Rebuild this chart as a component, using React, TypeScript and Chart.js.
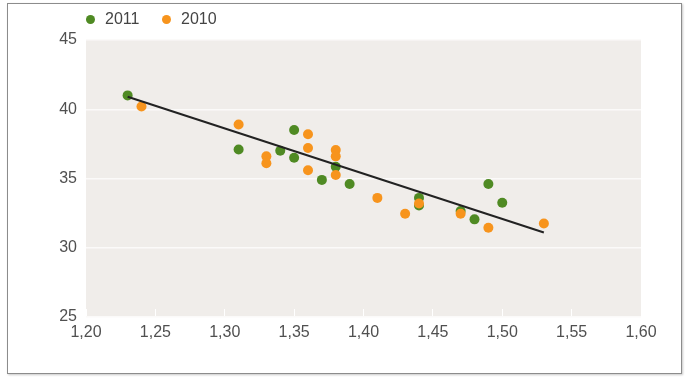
import React, { useEffect, useRef } from "react";
import { Chart, registerables } from "chart.js";

Chart.register(...registerables);

const series2011X = [1.23, 1.31, 1.34, 1.35, 1.35, 1.37, 1.38, 1.39, 1.44, 1.44, 1.47, 1.48, 1.49, 1.5];
const series2011Y = [41.0, 37.1, 37.0, 38.5, 36.5, 34.9, 35.85, 34.6, 33.6, 33.05, 32.65, 32.05, 34.6, 33.25];
const series2010X = [1.24, 1.31, 1.33, 1.33, 1.36, 1.36, 1.36, 1.38, 1.38, 1.38, 1.41, 1.43, 1.44, 1.47, 1.49, 1.53];
const series2010Y = [40.2, 38.9, 36.6, 36.1, 38.2, 37.2, 35.6, 37.05, 36.6, 35.25, 33.6, 32.45, 33.2, 32.45, 31.45, 31.75];
const trendX = [1.23, 1.53];
const trendY = [40.9, 31.1];
const legendLabels = ["2011", "2010"];
const xMin = 1.2, xMax = 1.6, xStep = 0.05;
const yMin = 25, yMax = 45, yStep = 5;

const GREEN = "#4f8a23";
const ORANGE = "#f7941d";
const FONT = "'Liberation Sans', Arial, sans-serif";

const toPoints = (xs: number[], ys: number[]) => xs.map((x, i) => ({ x, y: ys[i] }));

const bgPlugin = {
  id: "plotBg",
  beforeDraw(chart: any) {
    const { ctx, chartArea } = chart;
    ctx.save();
    ctx.fillStyle = "#f0edea";
    ctx.fillRect(chartArea.left, chartArea.top, chartArea.right - chartArea.left, chartArea.bottom - chartArea.top);
    ctx.restore();
  },
};

export default function App() {
  const ref = useRef<HTMLCanvasElement>(null);
  useEffect(() => {
    if (!ref.current) return;
    const chart = new Chart(ref.current, {
      type: "scatter",
      data: {
        datasets: [
          {
            type: "line",
            label: "trend",
            data: toPoints(trendX, trendY),
            borderColor: "#222222",
            borderWidth: 2,
            pointRadius: 0,
            fill: false,
            order: 0,
          } as any,
          {
            label: legendLabels[1],
            data: toPoints(series2010X, series2010Y),
            backgroundColor: ORANGE,
            borderColor: ORANGE,
            pointRadius: 5,
            borderWidth: 0,
            order: 1,
          },
          {
            label: legendLabels[0],
            data: toPoints(series2011X, series2011Y),
            backgroundColor: GREEN,
            borderColor: GREEN,
            pointRadius: 5,
            borderWidth: 0,
            order: 2,
          },
        ],
      },
      options: {
        animation: false,
        responsive: false,
        layout: { padding: { left: 46, right: 55, top: 40, bottom: 34 } },
        plugins: { legend: { display: false }, tooltip: { enabled: false } },
        scales: {
          x: {
            type: "linear",
            min: xMin,
            max: xMax,
            afterFit: (s: any) => { s.height = 30; },
            ticks: {
              stepSize: xStep,
              padding: 14,
              color: "#505050",
              font: { family: FONT, size: 16 },
              callback: (v: any) => Number(v).toFixed(2).replace(".", ","),
            },
            grid: { drawOnChartArea: false, drawTicks: true, tickLength: -8, tickColor: "#ffffff", lineWidth: 1 },
            border: { display: false },
          },
          y: {
            min: yMin,
            max: yMax,
            afterFit: (s: any) => { s.width = 40; },
            ticks: {
              stepSize: yStep,
              padding: 9,
              color: "#505050",
              font: { family: FONT, size: 16 },
            },
            grid: { color: "#fbfaf9", lineWidth: 1.5, drawTicks: false },
            border: { display: false },
          },
        },
      },
      plugins: [bgPlugin],
    });
    return () => chart.destroy();
  }, []);

  const dot = (c: string) => ({
    display: "inline-block",
    width: 9,
    height: 9,
    borderRadius: "50%",
    background: c,
    position: "absolute" as const,
    left: 0,
  });
  const item = (left: number, color: string, text: string) => (
    <div style={{ position: "absolute", left, top: 10, height: 20, width: 60 }}>
      <span style={{ ...dot(color), top: 5 }} />
      <span style={{ position: "absolute", left: 19, top: 0, fontFamily: FONT, fontSize: 16, lineHeight: "18px", color: "#444" }}>{text}</span>
    </div>
  );

  return (
    <div style={{ position: "absolute", left: 0, top: 0, width: 696, height: 381, background: "#fff" }}>
      <div style={{ position: "absolute", left: 7, top: 3, width: 673, height: 369, border: "1px solid #8c8c8c", boxShadow: "1px 1px 2px #c8c8c8" }} />
      <canvas ref={ref} width={696} height={381} style={{ position: "absolute", left: 0, top: 0 }} />
      {item(86, GREEN, legendLabels[0])}
      {item(162, ORANGE, legendLabels[1])}
    </div>
  );
}
